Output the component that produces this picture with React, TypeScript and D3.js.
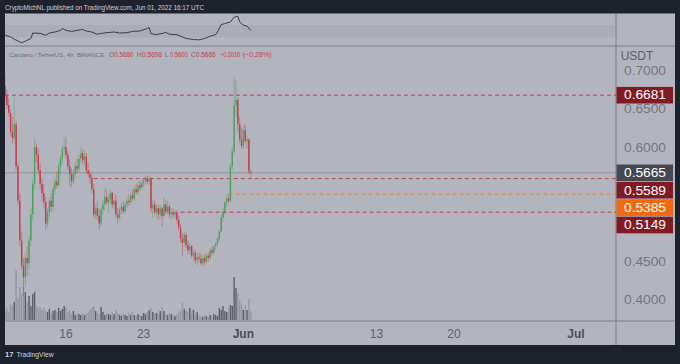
import React from 'react';
import * as d3 from 'd3';

const WIDTH = 680;
const HEIGHT = 364;

// ADA/USDT 4h candles, first bar May 10 2022 12:00 UTC (open = previous close)
const START = Date.UTC(2022, 4, 10, 12);
const FIRST_OPEN = 0.68;
const closes = [
  0.668, 0.655, 0.645, 0.620, 0.612, 0.630, 0.575, 0.530, 0.478, 0.445,
  0.430, 0.455, 0.448, 0.478, 0.512, 0.552, 0.600, 0.590, 0.570, 0.552,
  0.540, 0.528, 0.500, 0.515, 0.530, 0.522, 0.545, 0.555, 0.550, 0.575,
  0.585, 0.598, 0.600, 0.590, 0.575, 0.565, 0.556, 0.565, 0.575, 0.572,
  0.585, 0.592, 0.583, 0.588, 0.570, 0.565, 0.560, 0.545, 0.512, 0.520,
  0.510, 0.500, 0.518, 0.525, 0.535, 0.528, 0.532, 0.540, 0.525, 0.530,
  0.512, 0.508, 0.518, 0.522, 0.516, 0.525, 0.530, 0.528, 0.537, 0.533,
  0.545, 0.541, 0.550, 0.547, 0.553, 0.556, 0.559, 0.555, 0.558, 0.520,
  0.525, 0.515, 0.520, 0.512, 0.520, 0.510, 0.525, 0.515, 0.522, 0.512,
  0.515, 0.512, 0.515, 0.505, 0.495, 0.480, 0.475, 0.485, 0.472, 0.465,
  0.470, 0.458, 0.462, 0.452, 0.456, 0.454, 0.448, 0.455, 0.450, 0.458,
  0.455, 0.465, 0.462, 0.470, 0.474, 0.480, 0.490, 0.508, 0.515, 0.528,
  0.533, 0.530, 0.575, 0.595, 0.655, 0.662, 0.630, 0.610, 0.602, 0.622,
  0.608, 0.610, 0.568, 0.5665,
];
const highs = [
  0.696, 0.675, 0.664, 0.650, 0.640, 0.666, 0.635, 0.580, 0.540, 0.490,
  0.455, 0.462, 0.470, 0.485, 0.520, 0.560, 0.612, 0.605, 0.598, 0.578,
  0.560, 0.552, 0.535, 0.520, 0.535, 0.540, 0.550, 0.560, 0.568, 0.580,
  0.590, 0.602, 0.613, 0.614, 0.595, 0.585, 0.572, 0.570, 0.580, 0.585,
  0.590, 0.600, 0.598, 0.596, 0.592, 0.580, 0.570, 0.565, 0.552, 0.525,
  0.528, 0.520, 0.522, 0.530, 0.547, 0.545, 0.538, 0.545, 0.542, 0.535,
  0.538, 0.520, 0.522, 0.528, 0.530, 0.528, 0.535, 0.538, 0.540, 0.545,
  0.548, 0.552, 0.555, 0.556, 0.558, 0.560, 0.562, 0.562, 0.563, 0.561,
  0.530, 0.530, 0.525, 0.524, 0.525, 0.522, 0.534, 0.530, 0.532, 0.525,
  0.520, 0.520, 0.518, 0.518, 0.510, 0.500, 0.488, 0.490, 0.488, 0.478,
  0.475, 0.472, 0.465, 0.466, 0.460, 0.462, 0.460, 0.458, 0.460, 0.462,
  0.462, 0.468, 0.470, 0.472, 0.476, 0.482, 0.492, 0.512, 0.520, 0.530,
  0.538, 0.538, 0.580, 0.600, 0.692, 0.688, 0.665, 0.640, 0.625, 0.628,
  0.630, 0.615, 0.612, 0.5698,
];
const lows = [
  0.660, 0.650, 0.640, 0.615, 0.605, 0.608, 0.570, 0.525, 0.470, 0.440,
  0.405, 0.418, 0.432, 0.440, 0.470, 0.505, 0.545, 0.580, 0.565, 0.545,
  0.530, 0.520, 0.492, 0.495, 0.508, 0.515, 0.518, 0.538, 0.545, 0.548,
  0.565, 0.578, 0.590, 0.585, 0.570, 0.549, 0.548, 0.552, 0.560, 0.566,
  0.568, 0.580, 0.578, 0.575, 0.565, 0.560, 0.552, 0.540, 0.508, 0.505,
  0.505, 0.492, 0.496, 0.512, 0.518, 0.525, 0.515, 0.525, 0.520, 0.518,
  0.508, 0.500, 0.505, 0.512, 0.512, 0.514, 0.520, 0.524, 0.525, 0.530,
  0.530, 0.538, 0.538, 0.543, 0.545, 0.548, 0.550, 0.552, 0.550, 0.515,
  0.508, 0.512, 0.508, 0.505, 0.508, 0.496, 0.508, 0.512, 0.512, 0.508,
  0.505, 0.508, 0.506, 0.500, 0.490, 0.475, 0.458, 0.470, 0.468, 0.460,
  0.460, 0.455, 0.450, 0.448, 0.445, 0.450, 0.446, 0.444, 0.446, 0.448,
  0.450, 0.452, 0.458, 0.458, 0.465, 0.470, 0.476, 0.488, 0.502, 0.512,
  0.522, 0.526, 0.528, 0.570, 0.590, 0.640, 0.620, 0.605, 0.598, 0.598,
  0.605, 0.598, 0.565, 0.560,
];
// volume, millions ADA
const volumes = [
  18, 24, 16, 32, 28, 36, 100, 44, 66, 52,
  66, 56, 36, 48, 28, 52, 56, 28, 24, 26,
  20, 24, 18, 16, 22, 14, 18, 20, 16, 24,
  18, 22, 28, 24, 16, 20, 12, 18, 10, 14,
  12, 10, 14, 10, 12, 16, 20, 24, 28, 18,
  14, 12, 26, 16, 10, 14, 12, 10, 16, 12,
  20, 14, 10, 8, 12, 10, 8, 14, 10, 16,
  10, 8, 12, 10, 8, 14, 12, 16, 20, 24,
  16, 12, 14, 10, 18, 26, 18, 12, 10, 14,
  12, 10, 8, 12, 16, 20, 36, 22, 18, 16,
  24, 14, 20, 12, 16, 10, 8, 6, 10, 8,
  6, 10, 8, 12, 10, 8, 24, 20, 28, 18,
  16, 24, 30, 28, 86, 64, 54, 40, 32, 20,
  30, 20, 42, 18,
];

// upper pane compare line (bar index -> value on a 0..100 pane scale)
const overlayIdx = [
  0, 3, 5, 9, 11, 14, 15, 19, 22, 24, 27, 30, 31, 33, 36, 39, 42, 44, 47, 50,
  51, 55, 59, 62, 66, 69, 73, 77, 78, 79, 82, 86, 87, 89, 93, 96, 98, 102, 105, 108,
  111, 114, 115, 117, 119, 122, 124, 126, 127, 129, 131, 133,
];
const overlayVals = [
  33, 28, 21, 10, 15, 23, 40, 39, 33, 40, 43, 48, 54, 48, 45, 48, 51, 46, 43, 36,
  38, 41, 43, 40, 41, 45, 46, 54, 57, 38, 35, 40, 42, 36, 35, 28, 23, 20, 19, 23,
  30, 35, 43, 66, 69, 74, 89, 91, 74, 64, 61, 48,
];

// 0.50 and 0.55 sit under the badges, so they are not shown
const priceTicks = [0.4, 0.45, 0.6, 0.65, 0.7];
const timeTicks = [
  Date.UTC(2022, 4, 16), Date.UTC(2022, 4, 23), Date.UTC(2022, 5, 1),
  Date.UTC(2022, 5, 13), Date.UTC(2022, 5, 20), Date.UTC(2022, 6, 1),
];
const timeLabels = ['16', '23', 'Jun', '13', '20', 'Jul'];
const timeBold = [false, false, true, false, false, true];

// horizontal rays drawn on the chart
const rayPrices = [0.6681, 0.5589, 0.5385, 0.5149];
const rayStart = [-5, 48, 121, 95];
const rayColors = ['#b8434d', '#b8434d', '#e0823f', '#b8434d'];

// price axis badges
const badgePrices = [0.6681, 0.5665, 0.5589, 0.5385, 0.5149];
const badgeColors = ['#801b24', '#454852', '#801b24', '#ee6a10', '#801b24'];

// legend: key, value, x, width
const legendItems = [
  ['O', '0.5680', 109, 25],
  ['H', '0.5698', 136.7, 26],
  ['L', '0.5600', 164.7, 23.6],
  ['C', '0.5665', 190.7, 25.3],
  ['', '\u22120.0016', 220, 20],
  ['', '(\u22120.28%)', 242.7, 29],
];

const FONT = '"Liberation Sans", Arial, sans-serif';
const BG = '#1e222d';
const PANE = '#b2b5be';
const SEP = '#7b7e89';
const UP = '#4f9f5c';
const DOWN = '#c83a47';

const L = 5, R = 675, AX = 616, TOP = 13.5, MAIN_TOP = 46, MAIN_BOTTOM = 321, BOTTOM = 345;

const App = () => {
  const candles = closes.map((c, i) => ({
    t: new Date(START + i * 4 * 3600 * 1000),
    o: i === 0 ? FIRST_OPEN : closes[i - 1],
    h: highs[i],
    l: lows[i],
    c,
    v: volumes[i],
  }));

  const x = d3.scaleUtc()
    .domain([new Date(Date.UTC(2022, 4, 16)), new Date(Date.UTC(2022, 5, 20))])
    .range([66, 454]);
  const y = d3.scaleLinear().domain([0.3725, 0.7325]).range([MAIN_BOTTOM, MAIN_TOP]);
  const yVol = d3.scaleLinear().domain([0, 110]).range([320, 265]);
  const yMini = d3.scaleLinear().domain([0, 100]).range([MAIN_TOP, TOP]);

  const barX = (i) => x(new Date(START + i * 4 * 3600 * 1000));
  const bodyW = 1.4;

  const miniLine = d3.line()
    .x((d) => barX(d[0]))
    .y((d) => yMini(d[1]))(overlayIdx.map((idx, k) => [idx, overlayVals[k]]));

  // stack badges so they don't overlap
  const badgeH = 16.6;
  const badgeY = [];
  badgePrices.forEach((p, k) => {
    let cy = y(p);
    if (k > 0 && cy < badgeY[k - 1] + badgeH + 0.8) cy = badgeY[k - 1] + badgeH + 0.8;
    badgeY.push(cy);
  });

  const last = candles[candles.length - 1];

  return (
    <svg width={WIDTH} height={HEIGHT} style={{ position: 'absolute', left: 0, top: 0, display: 'block' }}
      fontFamily={FONT}>
      <defs>
        <clipPath id="main-clip">
          <rect x={L} y={MAIN_TOP} width={AX - L} height={MAIN_BOTTOM - MAIN_TOP} />
        </clipPath>
      </defs>
      <rect width={WIDTH} height={HEIGHT} fill={BG} />

      <text x={5} y={9.6} fontSize={7} fill="#d1d4dc" textLength={199} lengthAdjust="spacingAndGlyphs">
        CryptoMichNL published on TradingView.com, Jun 01, 2022 16:17 UTC
      </text>

      {/* panes */}
      <rect x={L} y={TOP} width={R - L} height={BOTTOM - TOP} fill={PANE} />
      <rect x={L} y={yMini(67)} width={AX - L} height={yMini(24) - yMini(67)} fill="#aaadb6" />
      <line x1={L} x2={AX} y1={yMini(67)} y2={yMini(67)} stroke="#bcbfc7" strokeDasharray="2 2" />
      <line x1={L} x2={AX} y1={yMini(24)} y2={yMini(24)} stroke="#bcbfc7" strokeDasharray="2 2" />
      <path d={miniLine} fill="none" stroke="#2f323c" strokeWidth={0.9} />

      <line x1={L} x2={R} y1={MAIN_TOP} y2={MAIN_TOP} stroke={SEP} />
      <line x1={L} x2={R} y1={MAIN_BOTTOM} y2={MAIN_BOTTOM} stroke={SEP} />
      <line x1={AX} x2={AX} y1={TOP} y2={BOTTOM} stroke={SEP} />

      {/* legend */}
      <text y={57} fontSize={6.6}>
        <tspan x={9.3} fill="#6a6d78" fontSize={6.1} textLength={95} lengthAdjust="spacingAndGlyphs">
          Cardano / TetherUS, 4h, BINANCE
        </tspan>
        {legendItems.map(([k, v, px, w]) => (
          <React.Fragment key={String(px)}>
            {k ? <tspan x={px} fill="#6a6d78">{k}</tspan> : null}
            <tspan x={k ? px + 5.2 : px} fill="#c8404a" textLength={k ? w - 5.6 : w}
              lengthAdjust="spacingAndGlyphs">{v}</tspan>
          </React.Fragment>
        ))}
      </text>

      <g clipPath="url(#main-clip)">
        {/* volume */}
        {candles.map((d, i) => (
          <rect key={'v' + i} x={barX(i) - bodyW / 2} y={yVol(d.v)} width={bodyW}
            height={yVol(0) - yVol(d.v)} fill={d.c >= d.o ? '#5c5f6a' : '#9497a1'} />
        ))}

        {/* rays */}
        {rayPrices.map((p, k) => (
          <line key={'r' + k} x1={Math.max(L, barX(rayStart[k]))} x2={AX} y1={y(p)} y2={y(p)}
            stroke={rayColors[k]} strokeWidth={1} strokeDasharray="4 3" />
        ))}
        <line x1={L} x2={AX} y1={y(last.c)} y2={y(last.c)} stroke="#868993" strokeWidth={0.8} />

        {/* candles */}
        {candles.map((d, i) => {
          const col = d.c >= d.o ? UP : DOWN;
          const top = y(Math.max(d.o, d.c));
          const bot = y(Math.min(d.o, d.c));
          return (
            <g key={'c' + i}>
              <line x1={barX(i)} x2={barX(i)} y1={y(d.h)} y2={y(d.l)} stroke={col} strokeOpacity={0.6} strokeWidth={0.8} />
              <rect x={barX(i) - bodyW / 2} y={top} width={bodyW} height={Math.max(0.8, bot - top)} fill={col} />
            </g>
          );
        })}
      </g>

      {/* price axis */}
      <text x={620.7} y={60.3} fontSize={12} fill="#5d606b">USDT</text>
      {priceTicks.map((p) => (
        <text key={p} x={624} y={y(p) + 4.3} fontSize={12} fill="#72757f" textLength={42}
          lengthAdjust="spacingAndGlyphs">{p.toFixed(4)}</text>
      ))}
      {badgePrices.map((p, k) => (
        <g key={'b' + k}>
          <rect x={AX + 0.5} y={badgeY[k] - badgeH / 2} width={673 - AX - 0.5} height={badgeH} fill={badgeColors[k]} />
          <text x={624} y={badgeY[k] + 4.3} fontSize={12} fill="#ffffff" textLength={42}
            lengthAdjust="spacingAndGlyphs">{p.toFixed(4)}</text>
        </g>
      ))}

      {/* time axis */}
      {timeTicks.map((t, k) => (
        <text key={t} x={x(new Date(t))} y={337.5} fontSize={12} textAnchor="middle"
          fill={timeBold[k] ? '#4a4d57' : '#5d606b'} fontWeight={timeBold[k] ? 'bold' : 'normal'}>
          {timeLabels[k]}
        </text>
      ))}

      {/* footer */}
      <text x={5} y={357} fontSize={7.5} fontWeight={900} fill="#d1d4dc">17</text>
      <text x={16.5} y={357} fontSize={7} fill="#d1d4dc" textLength={37} lengthAdjust="spacingAndGlyphs">TradingView</text>
    </svg>
  );
};

export default App;
